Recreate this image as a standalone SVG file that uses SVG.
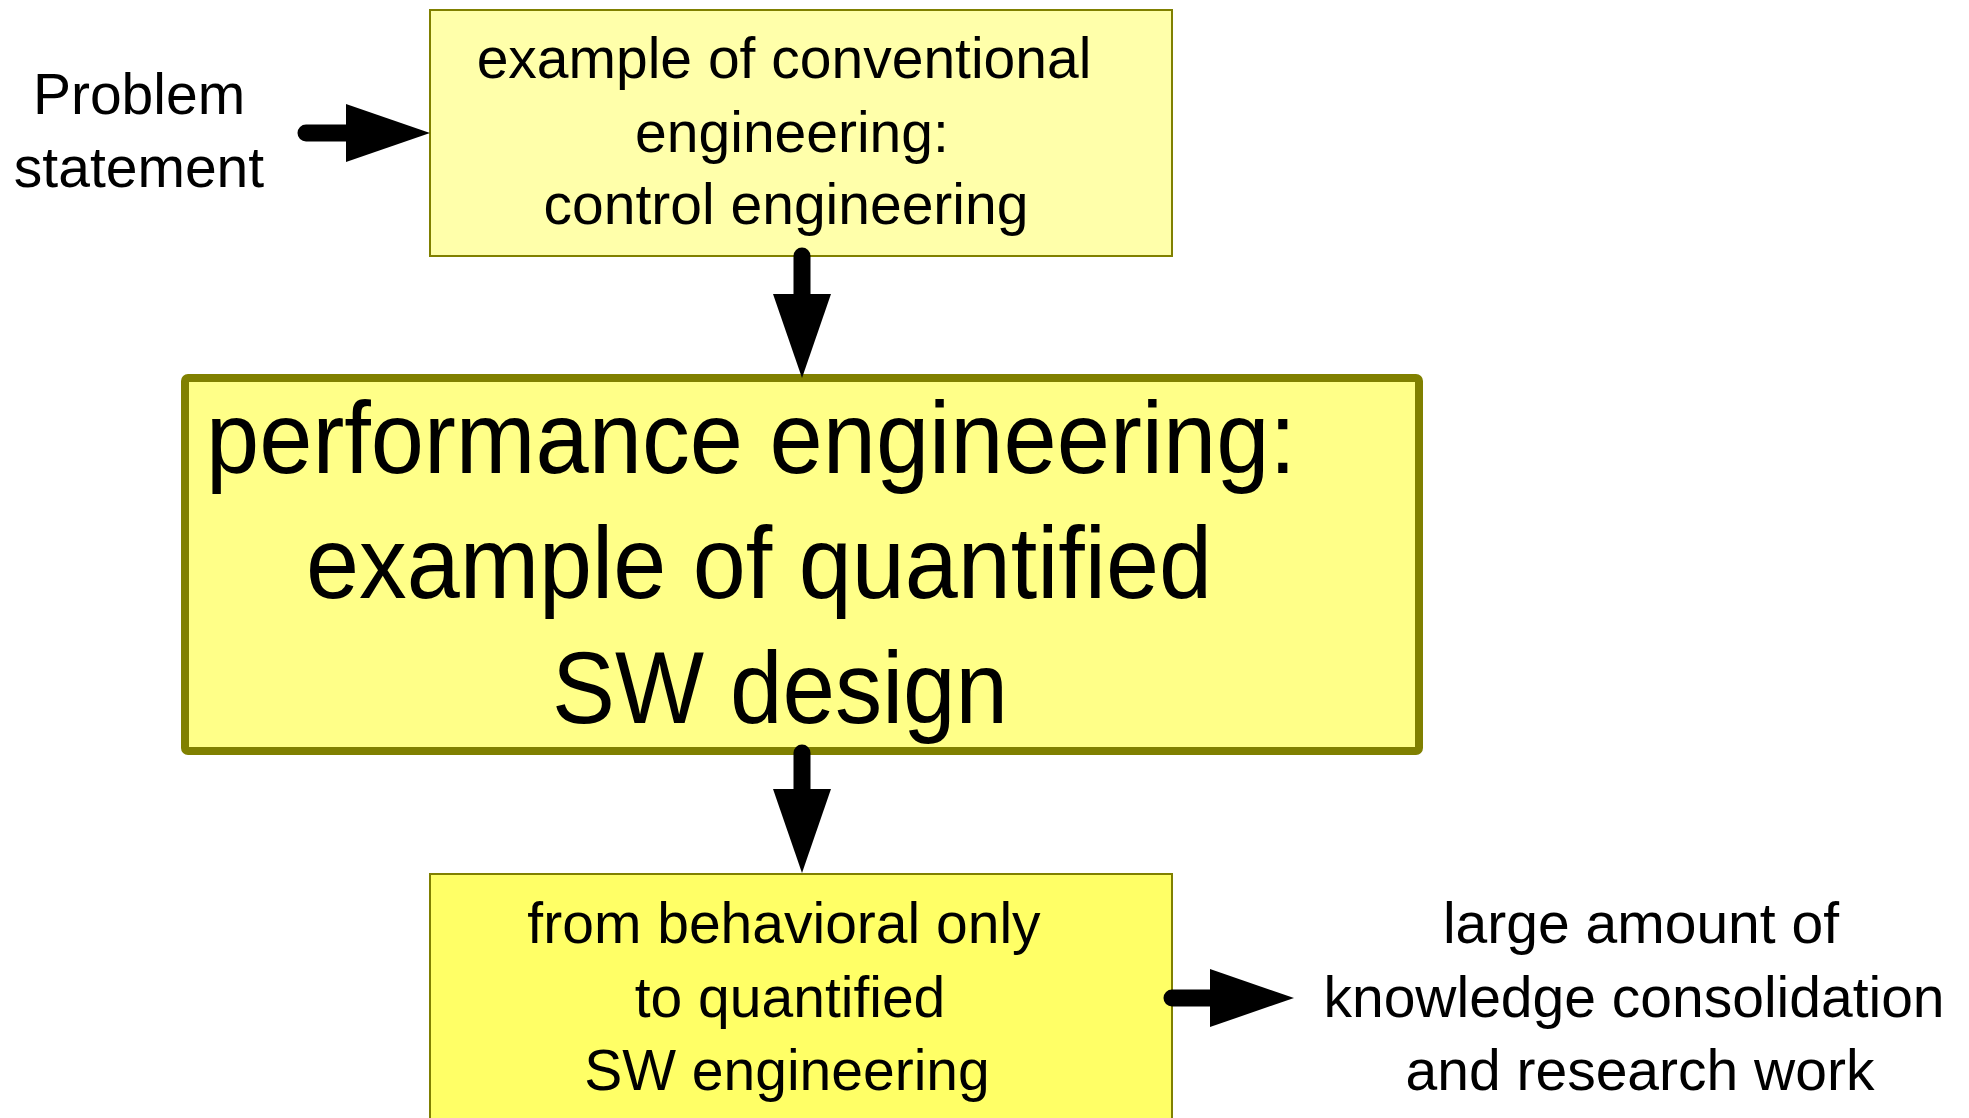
<svg xmlns="http://www.w3.org/2000/svg" width="1969" height="1118" viewBox="0 0 1969 1118">
  <style>
    text { font-family: "Liberation Sans", Arial, sans-serif; fill: #000; text-anchor: middle; }
    .s { font-size: 57px; }
    .b { font-size: 102px; }
    .conn { stroke: #000; stroke-width: 17; stroke-linecap: round; fill: none; }
  </style>
  <defs>
    <marker id="head" viewBox="0 0 84 58" refX="0" refY="29" markerWidth="84" markerHeight="58" markerUnits="userSpaceOnUse" orient="auto">
      <polygon points="0,0 84,29 0,58" fill="#000"/>
    </marker>
  </defs>
  <rect width="1969" height="1118" fill="#fff"/>

  <g id="problem">
    <text class="s" x="139" y="114">Problem</text>
    <text class="s" x="139" y="187">statement</text>
  </g>

  <g id="conventional">
    <rect x="430" y="10" width="742" height="246" fill="#ffffaa" stroke="#808000" stroke-width="2"/>
    <text class="s" x="784" y="78">example of conventional</text>
    <text class="s" x="792" y="152">engineering:</text>
    <text class="s" x="786" y="224">control engineering</text>
  </g>

  <g id="performance">
    <rect x="185" y="378" width="1234" height="373" rx="3" fill="#ffff88" stroke="#808000" stroke-width="8"/>
    <text class="b" x="751" y="473" textLength="1090" lengthAdjust="spacingAndGlyphs">performance engineering:</text>
    <text class="b" x="759" y="598" textLength="906" lengthAdjust="spacingAndGlyphs">example of quantified</text>
    <text class="b" x="780" y="723" textLength="456" lengthAdjust="spacingAndGlyphs">SW design</text>
  </g>

  <g id="quantified">
    <rect x="430" y="874" width="742" height="260" fill="#ffff66" stroke="#808000" stroke-width="2"/>
    <text class="s" x="784" y="943">from behavioral only</text>
    <text class="s" x="790" y="1017">to quantified</text>
    <text class="s" x="787" y="1090">SW engineering</text>
  </g>

  <g id="knowledge">
    <text class="s" x="1641" y="943">large amount of</text>
    <text class="s" x="1634" y="1017">knowledge consolidation</text>
    <text class="s" x="1640" y="1090">and research work</text>
  </g>

  <g id="connectors">
    <line class="conn" x1="306" y1="133" x2="346" y2="133" marker-end="url(#head)"/>
    <line class="conn" x1="802" y1="256" x2="802" y2="294" marker-end="url(#head)"/>
    <line class="conn" x1="802" y1="753" x2="802" y2="789" marker-end="url(#head)"/>
    <line class="conn" x1="1172" y1="998" x2="1210" y2="998" marker-end="url(#head)"/>
  </g>
</svg>
